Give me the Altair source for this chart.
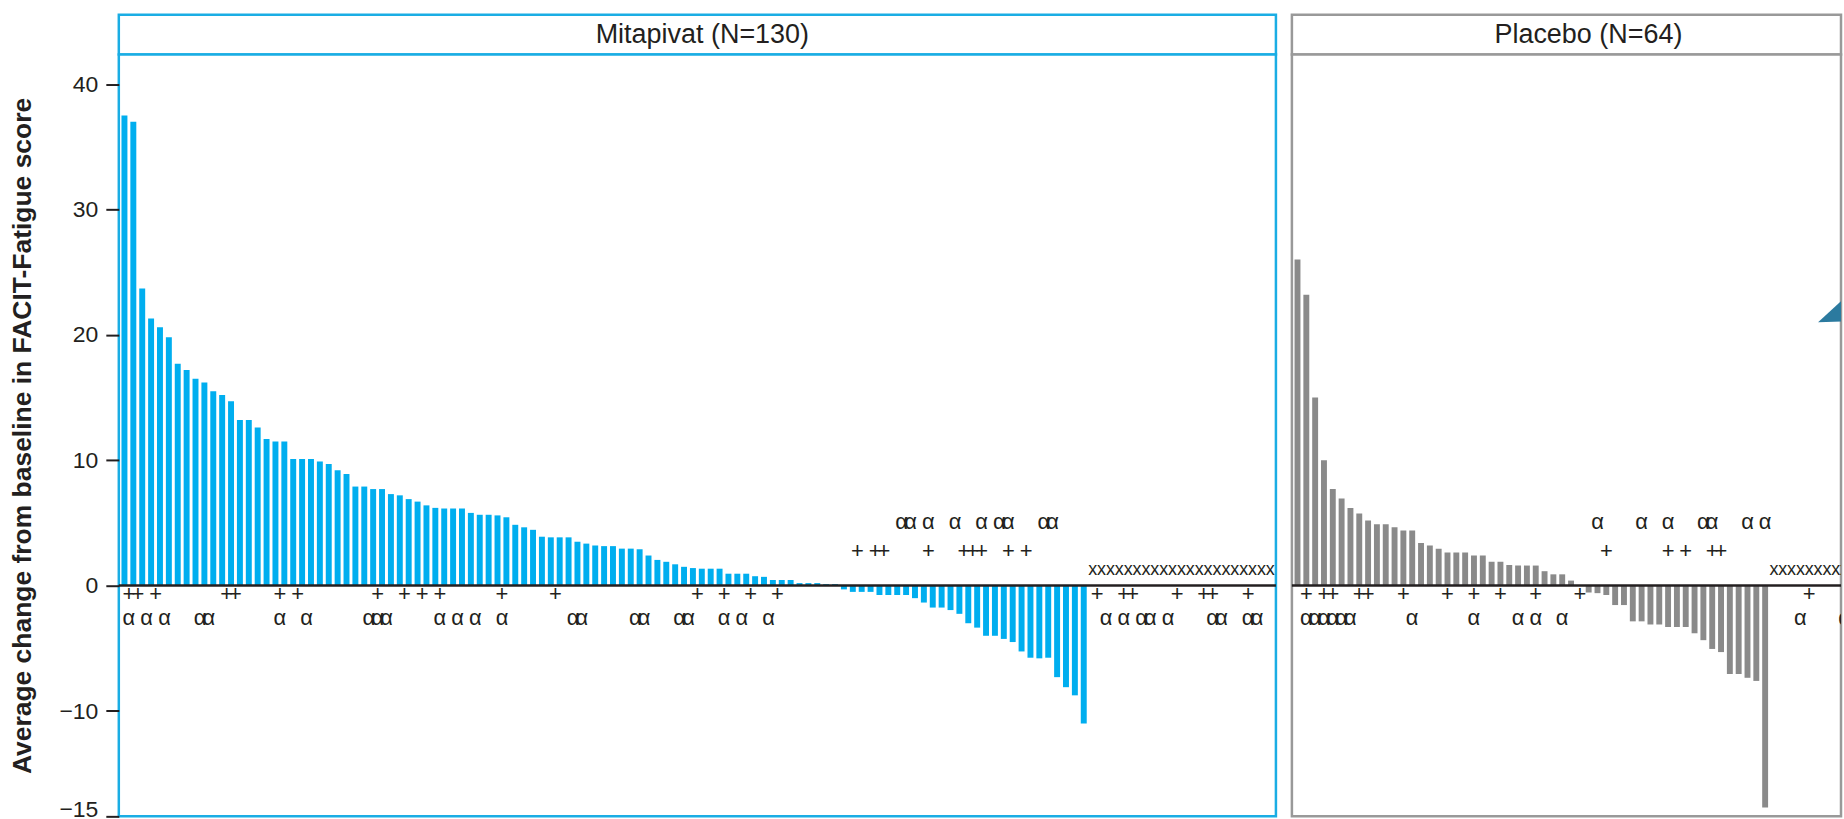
import altair as alt
import pandas as pd

FONT = "Liberation Sans"
INK = "#231f20"

# ---------------- data ----------------
mit_title = "Mitapivat (N=130)"
mit_n = 130
mit_values = [37.5, 37.0, 23.7, 21.3, 20.6, 19.8, 17.7, 17.2, 16.5, 16.2,
              15.5, 15.2, 14.7, 13.2, 13.2, 12.6, 11.7, 11.5, 11.5, 10.1,
              10.1, 10.1, 9.9, 9.7, 9.2, 8.9, 7.9, 7.9, 7.7, 7.7,
              7.3, 7.2, 6.9, 6.7, 6.4, 6.2, 6.15, 6.15, 6.15, 5.8,
              5.65, 5.65, 5.6, 5.45, 4.85, 4.65, 4.45, 3.9, 3.85, 3.85,
              3.85, 3.5, 3.35, 3.2, 3.15, 3.15, 2.95, 2.95, 2.9, 2.4,
              2.05, 1.9, 1.7, 1.5, 1.4, 1.35, 1.35, 1.35, 0.95, 0.95,
              0.95, 0.75, 0.7, 0.45, 0.45, 0.45, 0.2, 0.2, 0.2, 0.12,
              0.12, -0.3, -0.5, -0.5, -0.5, -0.75, -0.75, -0.75, -0.75, -1.0,
              -1.35, -1.75, -1.75, -1.95, -2.25, -3.0, -3.35, -4.0, -4.0, -4.25,
              -4.5, -5.25, -5.75, -5.8, -5.75, -7.3, -8.1, -8.75, -11.0]
mit_plus = [1, 2, 4, 12, 13, 18, 20, 29, 32, 34, 36, 43, 49, 65, 68, 71, 74,
            83, 85, 86, 91, 95, 96, 97, 100, 102,
            110, 113, 114, 119, 122, 123, 127]
mit_alpha = [1, 3, 5, 9, 10, 18, 21, 28, 29, 30, 36, 38, 40, 43, 51, 52, 58, 59,
             63, 64, 68, 70, 73,
             88, 89, 91, 94, 97, 99, 100, 104, 105,
             111, 113, 115, 116, 118, 123, 124, 127, 128]

plc_title = "Placebo (N=64)"
plc_n = 64
plc_values = [26.0, 23.2, 15.0, 10.0, 7.7, 6.95, 6.2, 5.75, 5.2, 4.9,
              4.9, 4.65, 4.4, 4.4, 3.4, 3.2, 2.95, 2.65, 2.65, 2.65,
              2.4, 2.4, 1.9, 1.9, 1.65, 1.6, 1.6, 1.6, 1.15, 0.9,
              0.9, 0.4, 0.0, -0.55, -0.6, -0.75, -1.55, -1.55, -2.85, -2.85,
              -3.1, -3.1, -3.3, -3.3, -3.3, -3.8, -4.35, -5.05, -5.3, -7.05,
              -7.05, -7.35, -7.6, -17.7]
plc_plus = [2, 4, 5, 8, 9, 13, 18, 21, 24, 28, 33, 36, 43, 45, 48, 49, 59]
plc_alpha = [2, 3, 4, 5, 6, 7, 14, 21, 26, 28, 31, 35, 40, 43, 47, 48, 52, 54, 58, 63]
# arrowhead of a call-out that runs off the right edge (placebo panel)
plc_arrow_idx = [60]
plc_arrow_value = [21.0]

y_title = "Average change from baseline in FACIT-Fatigue score"
y_ticks = [-18.4, -10, 0, 10, 20, 30, 40]

# ---------------- style ----------------
Y_DOMAIN = [-18.4, 42.35]
ROW_PLUS_BELOW = -0.7
ROW_ALPHA_BELOW = -2.6
ROW_MISSING = 1.25
ROW_PLUS_ABOVE = 2.75
ROW_ALPHA_ABOVE = 5.05
ARROW_PATH = "M0,0 L3.2,-2.95 L3.2,-0.1 Z"


def marker_frame(values, n, plus, alpha):
    rows = []
    for i in range(len(values) + 1, n + 1):
        rows.append({"idx": i, "value": ROW_MISSING, "sym": "x"})
    for i in plus:
        neg = i <= len(values) and values[i - 1] < 0
        rows.append({"idx": i, "value": ROW_PLUS_ABOVE if neg else ROW_PLUS_BELOW, "sym": "+"})
    for i in alpha:
        neg = i <= len(values) and values[i - 1] < 0
        rows.append({"idx": i, "value": ROW_ALPHA_ABOVE if neg else ROW_ALPHA_BELOW, "sym": "\u03b1"})
    return pd.DataFrame(rows)


def panel(values, n, plus, alpha, title, bar_color, frame_color, width, band_range,
          dx, title_dx, with_axis, arrow=None):
    bars_df = pd.DataFrame({"idx": list(range(1, len(values) + 1)), "value": values})
    marks_df = marker_frame(values, n, plus, alpha)
    xscale = alt.Scale(domain=list(range(1, n + 1)), paddingInner=0.33, paddingOuter=0.3,
                       range=[0, band_range])
    yscale = alt.Scale(domain=Y_DOMAIN, nice=False, zero=False)
    if with_axis:
        yaxis = alt.Axis(
            values=y_ticks, title=y_title,
            labelExpr="datum.value < -15 ? '\u221215' : datum.label",
            labelBaseline={"condition": {"test": "datum.value < -15", "value": "alphabetic"},
                           "value": "middle"},
        )
    else:
        yaxis = None
    X = alt.X("idx:O", scale=xscale, axis=None)
    Y = alt.Y("value:Q", scale=yscale, axis=yaxis)
    bars = alt.Chart(bars_df).mark_bar(color=bar_color, clip=True).encode(
        x=X, y=Y, y2=alt.datum(0),
    )
    zero = alt.Chart(pd.DataFrame({"value": [0]})).mark_rule(color=INK, strokeWidth=2.5).encode(
        y=Y
    )
    sym_other = marks_df[marks_df["sym"] != "x"]
    sym_x = marks_df[marks_df["sym"] == "x"]
    texts = alt.Chart(sym_other).mark_text(
        font=FONT, fontSize=22, color=INK, baseline="middle", dx=dx, clip=True
    ).encode(x=X, y=Y, text="sym:N")
    xs = alt.Chart(sym_x).mark_text(
        font=FONT, fontSize=18, color=INK, baseline="middle", clip=True
    ).encode(x=X, y=Y, text="sym:N")
    layers = [bars, zero, texts, xs]
    if arrow is not None:
        arrow_df = pd.DataFrame({"idx": arrow[0], "value": arrow[1]})
        layers.append(
            alt.Chart(arrow_df).mark_point(
                shape=ARROW_PATH, size=400, filled=True, opacity=1,
                color="#2b7a9f", strokeWidth=0, clip=True,
            ).encode(x=X, y=Y)
        )
    body = alt.layer(*layers).properties(
        width=width, height=763,
        view=alt.ViewBackground(stroke=frame_color, strokeWidth=2.5, fill="white"),
    )
    header = alt.Chart(pd.DataFrame({"t": [title]})).mark_text(
        font=FONT, fontSize=27, color=INK, baseline="middle", dx=title_dx
    ).encode(text="t:N").properties(
        width=width, height=40,
        view=alt.ViewBackground(stroke=frame_color, strokeWidth=2.5, fill="white"),
    )
    return alt.vconcat(header, body, spacing=0, bounds="flush")


left = panel(mit_values, mit_n, mit_plus, mit_alpha, mit_title,
             "#00AEEF", "#1AADE4", 1159, 1159, 4.5, 5, True)
right = panel(plc_values, plc_n, plc_plus, plc_alpha, plc_title,
              "#8A8A8A", "#999999", 550, 568, 0, 22, False,
              arrow=(plc_arrow_idx, plc_arrow_value))

chart = alt.hconcat(left, right, spacing=10).properties(
    padding={"left": 8, "top": 12, "right": 0, "bottom": 0},
    background="white",
).configure_axis(
    domain=False, grid=False,
    tickColor=INK, tickWidth=2, tickSize=13,
    labelFont=FONT, labelFontSize=23, labelColor=INK, labelPadding=8,
    titleFont=FONT, titleFontSize=26.5, titleFontWeight="bold", titleColor=INK,
    titlePadding=22,
).configure_text(font=FONT)

chart.save("out.html", embed_options={"renderer": "svg", "actions": False})
